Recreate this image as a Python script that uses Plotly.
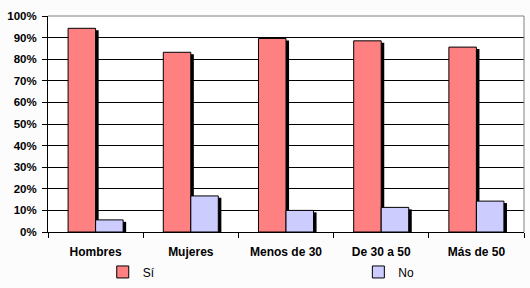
import plotly.graph_objects as go

categories = ["Hombres", "Mujeres", "Menos de 30", "De 30 a 50", "Más de 50"]
si_values = [94.3, 83.2, 89.6, 88.5, 85.6]
no_values = [5.6, 16.7, 10.0, 11.4, 14.3]
series_names = ["Sí", "No"]
y_ticks = list(range(0, 101, 10))
y_tick_labels = [f"{v}%" for v in y_ticks]

W = 0.289          # bar width in category units
SH_X = 0.032       # shadow horizontal shift (category units)
SH_Y = 0.9         # shadow vertical drop (percent units)

fig = go.Figure()
# shadows
for vals, off in [(si_values, -W), (no_values, 0.0)]:
    fig.add_trace(go.Bar(
        x=categories, y=[v - SH_Y for v in vals], width=W, offset=off + SH_X,
        marker=dict(color="black", line=dict(width=0)),
        showlegend=False, hoverinfo="skip"))
fig.add_trace(go.Bar(
    x=categories, y=si_values, width=W, offset=-W, name=series_names[0],
    marker=dict(color="#FF8080", line=dict(color="black", width=1)),
    legend="legend"))
fig.add_trace(go.Bar(
    x=categories, y=no_values, width=W, offset=0.0, name=series_names[1],
    marker=dict(color="#CCCCFF", line=dict(color="black", width=1)),
    legend="legend2"))

leg_common = dict(orientation="h", y=-0.185, xanchor="left", yanchor="middle",
                  font=dict(size=12), bgcolor="rgba(0,0,0,0)", itemwidth=30)

fig.update_layout(
    width=530, height=288,
    margin=dict(l=48, r=6, t=16, b=56, autoexpand=False),
    barmode="overlay",
    paper_bgcolor="#fcfcfc",
    plot_bgcolor="white",
    font=dict(family="Liberation Sans, Arial", color="black"),
    legend=dict(x=0.115, **leg_common),
    legend2=dict(x=0.652, **leg_common),
    xaxis=dict(type="category", tickson="boundaries", ticks="outside", ticklen=5,
               tickcolor="black", showline=True, linecolor="black", linewidth=1,
               tickfont=dict(size=12, weight="bold"), showgrid=False,
               ticklabelstandoff=9, range=[-0.5, 4.5]),
    yaxis=dict(range=[0, 100], tickvals=y_ticks, ticktext=y_tick_labels,
               ticks="outside", ticklen=5, tickcolor="black",
               showline=True, linecolor="black", linewidth=1,
               gridcolor="black", gridwidth=1, zeroline=False,
               ticklabelstandoff=3,
               tickfont=dict(size=11.5, weight="bold")),
    shapes=[
        dict(type="line", xref="paper", yref="paper", x0=0, x1=1, y0=1, y1=1,
             line=dict(color="#808080", width=1)),
        dict(type="line", xref="paper", yref="paper", x0=1, x1=1, y0=0, y1=1,
             line=dict(color="#808080", width=1)),
    ],
)

fig.write_html("out.html")
